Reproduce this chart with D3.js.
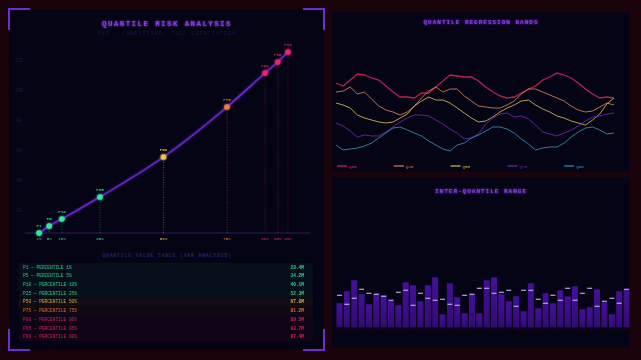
<!DOCTYPE html>
<html>
<head>
<meta charset="utf-8">
<script src="https://cdn.jsdelivr.net/npm/d3@7"></script>
<style>
  html,body{margin:0;padding:0;background:#1b040d;}
  svg{display:block;}
  text{font-family:"Liberation Mono","DejaVu Sans Mono",monospace;}
</style>
</head>
<body>
<div id="chart"></div>
<script>

// ------------------------------------------------ DATA ------------------------------------------------

// quantile curve (left)
var percentiles = [1,5,10,25,50,75,90,95,99];
var quantileLabels = ["P1","P5","P10","P25","P50","P75","P90","P95","P99"];
var quantileValues = [4.7,9.3,14,28.7,55.3,88.7,111.3,118.7,125.3];
var yTicks = [20,40,60,80,100,120];

// value table
var tableNames = ["P1 — PERCENTILE 1%","P5 — PERCENTILE 5%","P10 — PERCENTILE 10%","P25 — PERCENTILE 25%","P50 — PERCENTILE 50%","P75 — PERCENTILE 75%","P90 — PERCENTILE 90%","P95 — PERCENTILE 95%","P99 — PERCENTILE 99%"];
var tableValues = ["28.4M","34.2M","40.1M","52.3M","67.8M","81.2M","89.5M","93.7M","97.4M"];

// regression bands (top right)
var bandNames = ["Q05","Q25","Q50","Q75","Q95"];
var q05 = [77,74,80,86,85,82,80,74,68,63,63,62,67,67,73,79,85,84,83,83,79,73,68,64,62,63,67,71,74,80,83,87,85,82,77,71,66,62,63,62];
var q25 = [68,69,73,66,68,61,54,50,48,45,48,54,62,69,73,68,71,71,64,59,54,53,52,52,55,59,66,71,71,68,65,62,59,54,50,48,49,53,57,55];
var q50 = [57,55,52,45,42,40,38,37,38,42,46,54,59,63,60,60,57,52,47,42,38,39,43,48,52,55,59,60,55,51,48,44,42,39,37,35,40,46,56,62];
var q75 = [37,34,29,23,25,24,24,28,33,38,42,45,45,44,40,36,31,27,21,22,26,36,42,46,47,43,44,41,35,28,26,24,27,30,34,39,43,44,46,47];
var q95 = [15,10,11,12,14,17,22,27,32,33,30,27,24,19,15,11,9,15,17,22,25,29,33,33,31,27,21,16,10,12,13,13,17,23,28,32,33,30,26,27];

// inter-quantile range bars (bottom right)
var iqrValues = [24,36,47,33,23,34,32,27,22,45,42,26,42,50,13,44,30,14,33,14,47,50,33,26,31,16,44,19,34,24,37,31,41,18,20,38,25,13,36,38];
var medianValues = [32,23,29,38,34,33,31,27,35,37,22,34,29,27,28,23,22,32,33,39,39,34,35,37,21,37,37,28,24,32,27,39,27,34,39,21,26,29,24,38];


// ------------------------------------------------ STYLE ------------------------------------------------
var W=641, H=360;
var COLOR_BG="#1a030b";
var COLOR_PANEL="#050414";
var COLOR_TITLE="#8a3ae8";
var COLOR_BRACKET="#6a2fd0";
var COLOR_GREEN="#2fe89c", COLOR_YELLOW="#f2c23a", COLOR_ORANGE="#f27c3c", COLOR_RED="#f0236a";
var bandColors = ["#d8245c","#d88258","#d8b850","#6e28b4","#3592bb"];

function quantileColor(p){
	if (p<=25) return COLOR_GREEN;
	if (p==50) return COLOR_YELLOW;
	if (p==75) return COLOR_ORANGE;
	return COLOR_RED;
}

var svg = d3.select("#chart").append("svg").attr("width",W).attr("height",H);

var defs = svg.append("defs");
var glow = defs.append("filter").attr("id","glow").attr("x","-50%").attr("y","-50%").attr("width","200%").attr("height","200%");
glow.append("feGaussianBlur").attr("stdDeviation",1.2).attr("result","b");
var m = glow.append("feMerge");
m.append("feMergeNode").attr("in","b");
m.append("feMergeNode").attr("in","SourceGraphic");

var grad = defs.append("linearGradient").attr("id","barGrad").attr("x1",0).attr("y1",0).attr("x2",0).attr("y2",1);
grad.append("stop").attr("offset","0%").attr("stop-color","#44109a");
grad.append("stop").attr("offset","100%").attr("stop-color","#330a74");

svg.append("rect").attr("width",W).attr("height",H).style("fill",COLOR_BG);


function _drawText(g,txt,x,y,o){
	return g.append("text")
		.attr("x",x).attr("y",y)
		.attr("text-anchor",o.anchor||"start")
		.style("font-size",o.size)
		.style("font-weight",o.weight||"normal")
		.style("letter-spacing",o.spacing||"0px")
		.style("fill",o.color)
		.style("opacity",o.opacity==null?1:o.opacity)
		.attr("filter",o.glow?"url(#glow)":null)
		.text(txt);
}


// ----------------------------------------------------------------------------------------------------------------
// ---------------------------------------------- LEFT PANEL: QUANTILE CURVE --------------------------------------
// ----------------------------------------------------------------------------------------------------------------
var gLeft = svg.append("g").attr("id","left");
gLeft.append("rect").attr("x",9).attr("y",9).attr("width",315).attr("height",341).style("fill",COLOR_PANEL);

// corner brackets
var brackets = [[9,30,9,9,30,9],[303,9,324,9,324,30],[9,329,9,350,30,350],[303,350,324,350,324,329]];
brackets.forEach(function(b){
	gLeft.append("path")
		.attr("d","M"+b[0]+","+b[1]+"L"+b[2]+","+b[3]+"L"+b[4]+","+b[5])
		.style("fill","none").style("stroke",COLOR_BRACKET).style("stroke-width",2);
});

_drawText(gLeft,"QUANTILE RISK ANALYSIS",167,26,{"size":"7.5px","weight":"bold","spacing":"1.4px","color":COLOR_TITLE,"anchor":"middle","glow":true});
_drawText(gLeft,"VAR · CONDITIONAL TAIL EXPECTATION",167,35,{"size":"4.8px","spacing":"1.2px","color":"#19184c","anchor":"middle"});

var x = d3.scaleLinear().domain([0,100]).range([36.5,290.5]);
var y = d3.scaleLinear().domain([0,120]).range([240,60]);
var BASE_Y = 233;

// y tick labels
gLeft.selectAll(".ytick").data(yTicks).enter().append("text")
	.attr("class","ytick")
	.attr("x",19).attr("y",function(d){return y(d)+1.5;})
	.attr("text-anchor","middle")
	.style("font-size","4.5px").style("fill","#1a1a4c")
	.text(function(d){return d;});

// baseline
gLeft.append("line").attr("x1",25).attr("x2",310).attr("y1",BASE_Y).attr("y2",BASE_Y)
	.style("stroke","#33176c").style("stroke-width",1);

var pts = percentiles.map(function(p,i){return {"p":p,"v":quantileValues[i],"label":quantileLabels[i]};});

// drop lines
gLeft.selectAll(".drop").data(pts).enter().append("line")
	.attr("x1",function(d){return x(d.p);}).attr("x2",function(d){return x(d.p);})
	.attr("y1",function(d){return y(d.v);}).attr("y2",BASE_Y)
	.style("stroke",function(d){return quantileColor(d.p);})
	.style("stroke-width",0.8).style("stroke-dasharray","1,1.5").style("opacity",0.45);

// curve
var curve = d3.line().x(function(d){return x(d.p);}).y(function(d){return y(d.v);}).curve(d3.curveMonotoneX);
gLeft.append("path").datum(pts).attr("d",curve)
	.style("fill","none").style("stroke","#6e26d8").style("stroke-width",1.4).attr("filter","url(#glow)");

// points
gLeft.selectAll(".qdot").data(pts).enter().append("circle")
	.attr("cx",function(d){return x(d.p);}).attr("cy",function(d){return y(d.v);})
	.attr("r",2.8)
	.style("fill",function(d){return quantileColor(d.p);})
	.attr("filter","url(#glow)");

gLeft.selectAll(".qlabel").data(pts).enter().append("text")
	.attr("x",function(d){return x(d.p);}).attr("y",function(d){return y(d.v)-6;})
	.attr("text-anchor","middle")
	.style("font-size","4.2px").style("font-weight","bold")
	.style("fill",function(d){return quantileColor(d.p);})
	.style("opacity",0.85)
	.text(function(d){return d.label;});

gLeft.selectAll(".xlabel").data(pts).enter().append("text")
	.attr("x",function(d){return x(d.p);}).attr("y",BASE_Y+7)
	.attr("text-anchor","middle")
	.style("font-size","4.2px").style("font-weight","bold")
	.style("fill",function(d){return quantileColor(d.p);})
	.style("opacity",0.7)
	.text(function(d){return d.p+"%";});


// ---------------------------------------------- VALUE TABLE ---------------------------------------------------
_drawText(gLeft,"QUANTILE VALUE TABLE (VAR ANALYSIS)",167,257,{"size":"5px","weight":"bold","spacing":"0.7px","color":"#2b2070","anchor":"middle"});

var ROW_Y0=263, ROW_H=8.7;
var rows = gLeft.selectAll(".row").data(pts).enter().append("g").attr("class","row");
rows.append("rect")
	.attr("x",19).attr("width",294)
	.attr("y",function(d,i){return ROW_Y0+i*ROW_H;}).attr("height",ROW_H)
	.style("fill",function(d){return quantileColor(d.p);})
	.style("opacity",0.05);
rows.append("text")
	.attr("x",23).attr("y",function(d,i){return ROW_Y0+i*ROW_H+5.6;})
	.style("font-size","4.5px")
	.style("fill",function(d){return quantileColor(d.p);})
	.style("opacity",0.85)
	.text(function(d,i){return tableNames[i];});
rows.append("text")
	.attr("x",304).attr("y",function(d,i){return ROW_Y0+i*ROW_H+5.6;})
	.attr("text-anchor","end")
	.style("font-size","4.5px").style("font-weight","bold")
	.style("fill",function(d){return quantileColor(d.p);})
	.style("opacity",0.9)
	.text(function(d,i){return tableValues[i];});


// ----------------------------------------------------------------------------------------------------------------
// ---------------------------------------------- TOP RIGHT: REGRESSION BANDS --------------------------------------
// ----------------------------------------------------------------------------------------------------------------
var gBands = svg.append("g").attr("id","bands");
gBands.append("rect").attr("x",332).attr("y",12).attr("width",298).attr("height",160).style("fill",COLOR_PANEL);
_drawText(gBands,"QUANTILE REGRESSION BANDS",481,24,{"size":"6px","weight":"bold","spacing":"1px","color":COLOR_TITLE,"anchor":"middle","glow":true});

var bx = d3.scaleLinear().domain([0,q05.length-1]).range([336,614]);
var by = d3.scaleLinear().domain([0,120]).range([160,40]);
var bandLine = d3.line().x(function(d,i){return bx(i);}).y(function(d){return by(d);});

[q05,q25,q50,q75,q95].forEach(function(s,k){
	gBands.append("path").datum(s).attr("d",bandLine)
		.style("fill","none").style("stroke",bandColors[k]).style("stroke-width",k==0?1.3:1)
		.style("opacity",0.85);
});

// legend
bandNames.forEach(function(n,k){
	var lx = 337+k*56.8;
	gBands.append("line").attr("x1",lx).attr("x2",lx+10).attr("y1",166).attr("y2",166)
		.style("stroke",bandColors[k]).style("stroke-width",1.2);
	_drawText(gBands,n,lx+12,167.5,{"size":"4.2px","color":bandColors[k]});
});


// ----------------------------------------------------------------------------------------------------------------
// ---------------------------------------------- BOTTOM RIGHT: IQR BARS ------------------------------------------
// ----------------------------------------------------------------------------------------------------------------
var gIqr = svg.append("g").attr("id","iqr");
gIqr.append("rect").attr("x",332).attr("y",177).attr("width",298).attr("height",171).style("fill",COLOR_PANEL);
_drawText(gIqr,"INTER-QUANTILE RANGE",481,193,{"size":"6px","weight":"bold","spacing":"1px","color":COLOR_TITLE,"anchor":"middle","glow":true});

var ix = d3.scaleBand().domain(d3.range(iqrValues.length)).range([336.5,629.5]).paddingInner(0.19);
var iy = d3.scaleLinear().domain([0,60]).range([327.3,267.3]);

gIqr.selectAll(".bar").data(iqrValues).enter().append("rect")
	.attr("x",function(d,i){return ix(i);})
	.attr("width",ix.bandwidth())
	.attr("y",function(d){return iy(d);})
	.attr("height",function(d){return iy(0)-iy(d);})
	.style("fill","url(#barGrad)");

gIqr.selectAll(".med").data(medianValues).enter().append("rect")
	.attr("x",function(d,i){return ix(i)+0.5;})
	.attr("width",ix.bandwidth()-1)
	.attr("y",function(d){return iy(d)-0.6;})
	.attr("height",1.2)
	.style("fill","#b9a2e2");

</script>
</body>
</html>
